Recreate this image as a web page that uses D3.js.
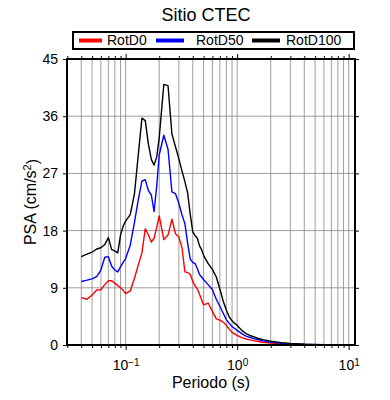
<!DOCTYPE html>
<html>
<head>
<meta charset="utf-8">
<script src="https://cdn.jsdelivr.net/npm/d3@7"></script>
<style>
  body { margin: 0; background: #fff; }
  text { font-family: "Liberation Sans", Arial, sans-serif; fill: #000; }
</style>
</head>
<body>
<script>
// periods (s) and PSA values (cm/s2)
const periods = [0.04,0.045,0.05,0.055,0.06,0.065,0.07,0.075,0.08,0.085,0.09,0.095,
  0.1,0.11,0.12,0.13,0.14,0.15,0.16,0.17,0.18,0.19,0.2,0.22,0.24,0.26,0.28,0.3,
  0.32,0.34,0.36,0.38,0.4,0.42,0.44,0.46,0.48,0.5,0.55,0.6,0.65,0.7,0.75,0.8,
  0.85,0.9,0.95,1.0,1.1,1.2,1.3,1.4,1.5,1.7,2.0,2.5,3.0,4.0,5.0,6.0,7.5,10];

const rotD0 = [7.45,7.2,7.85,8.65,8.7,9.5,10.1,10.1,9.7,9.35,9.0,8.6,
  8.1,8.5,10.5,12.6,14.5,18.3,17.3,16.2,16.8,18.5,20.3,16.6,17.3,19.8,17.5,17.0,
  15.3,11.5,11.4,11.1,10.0,9.3,8.8,8.0,7.1,6.3,6.6,5.3,4.1,3.9,3.6,3.1,
  2.5,2.0,1.75,1.5,1.15,0.95,0.8,0.68,0.6,0.43,0.3,0.18,0.12,0.07,0.04,0.03,0.02,0.01];

const rotD50 = [10.0,10.2,10.4,10.75,11.8,13.8,13.9,12.4,11.8,11.5,12.3,13.0,
  13.6,15.7,19.3,22.9,25.8,26.0,24.3,23.6,21.0,25.0,29.9,33.0,30.8,24.1,23.8,22.3,
  20.5,19.1,16.0,13.5,13.0,12.8,12.0,11.1,10.7,10.3,9.5,8.7,7.2,6.1,5.0,4.0,
  3.4,2.9,2.6,2.3,1.8,1.4,1.2,1.0,0.9,0.65,0.45,0.28,0.18,0.1,0.06,0.04,0.03,0.02];

const rotD100 = [13.9,14.3,14.6,15.1,15.3,15.8,16.9,15.0,14.8,14.5,17.3,18.7,
  19.5,20.5,23.8,30.0,35.7,35.3,31.6,29.2,28.3,29.6,32.6,41.0,40.8,33.2,31.2,29.3,
  27.4,25.7,23.9,20.5,17.8,17.2,16.8,15.6,15.0,14.1,12.8,11.9,10.7,8.8,6.9,5.5,
  4.4,3.8,3.4,3.1,2.3,1.8,1.5,1.3,1.1,0.85,0.6,0.38,0.25,0.13,0.08,0.06,0.04,0.03];

const seriesNames = ["RotD0", "RotD50", "RotD100"];
const seriesColors = ["#ff0000", "#0000ff", "#000000"];
const yTicks = [0, 9, 18, 27, 36, 45];
const xMajor = [0.1, 1, 10];
const xExponents = ["\u22121", "0", "1"];

const W = 390, H = 400;
const margin = {top: 59, right: 35, bottom: 55, left: 67};
const width = W - margin.left - margin.right;
const height = H - margin.top - margin.bottom;

const svg = d3.select("body").append("svg")
  .attr("width", W)
  .attr("height", H);

const x = d3.scaleLog().domain([0.0298, 11.4]).range([0, width]);
const y = d3.scaleLinear().domain([0, 45]).range([height, 0]);

// minor log positions (2..9 of each decade) inside the domain
let xMinor = [];
[0.01, 0.1, 1].forEach(dec => {
  for (let k = 2; k <= 9; k++) {
    const v = dec * k;
    if (v >= x.domain()[0] && v <= x.domain()[1]) xMinor.push(v);
  }
});

const g = svg.append("g")
  .attr("transform", "translate(" + margin.left + "," + margin.top + ")");

// grid
g.append("g").attr("class", "grid")
  .selectAll("line.v")
  .data(xMinor.concat(xMajor))
  .enter().append("line")
  .attr("x1", d => x(d)).attr("x2", d => x(d))
  .attr("y1", 0).attr("y2", height)
  .style("stroke", "#858585")
  .style("stroke-width", 0.8);

g.append("g").attr("class", "grid")
  .selectAll("line.h")
  .data(yTicks.slice(1, -1))
  .enter().append("line")
  .attr("x1", 0).attr("x2", width)
  .attr("y1", d => y(d)).attr("y2", d => y(d))
  .style("stroke", "#858585")
  .style("stroke-width", 0.8);

// curves
const line = d3.line()
  .x(d => x(d[0]))
  .y(d => y(d[1]));

[rotD0, rotD50, rotD100].forEach((vals, i) => {
  g.append("path")
    .datum(periods.map((p, j) => [p, vals[j]]))
    .attr("d", line)
    .style("fill", "none")
    .style("stroke", seriesColors[i])
    .style("stroke-width", 1.4)
    .style("stroke-linejoin", "round");
});

// axes: ticks on all four sides
function styleAxis(sel) {
  sel.select(".domain").remove();
  sel.selectAll(".tick line").style("stroke", "#000").style("stroke-width", 1);
}

g.append("g")
  .attr("transform", "translate(0," + height + ")")
  .call(d3.axisBottom(x).tickValues(xMinor).tickSize(3).tickFormat(""))
  .call(styleAxis);

const xAx = g.append("g")
  .attr("transform", "translate(0," + height + ")")
  .call(d3.axisBottom(x).tickValues(xMajor).tickSize(5).tickPadding(7).tickFormat(""))
  .call(styleAxis);

xAx.selectAll(".tick text")
  .style("font-size", "14px")
  .attr("dy", "0.95em")
  .each(function(d, i) {
    const t = d3.select(this);
    t.append("tspan").text("10");
    t.append("tspan").attr("dy", "-0.45em").style("font-size", "10px").text(xExponents[i]);
  });

g.append("g")
  .call(d3.axisTop(x).tickValues(xMinor).tickSize(3).tickFormat(""))
  .call(styleAxis);
g.append("g")
  .call(d3.axisTop(x).tickValues(xMajor).tickSize(5).tickFormat(""))
  .call(styleAxis);

const yAx = g.append("g")
  .call(d3.axisLeft(y).tickValues(yTicks).tickSize(4).tickPadding(5))
  .call(styleAxis);
yAx.selectAll(".tick text").style("font-size", "14px");

g.append("g")
  .attr("transform", "translate(" + width + ",0)")
  .call(d3.axisRight(y).tickValues(yTicks).tickSize(4).tickFormat(""))
  .call(styleAxis);

// frame
g.append("rect")
  .attr("width", width)
  .attr("height", height)
  .style("fill", "none")
  .style("stroke", "#000")
  .style("stroke-width", 2);

// axis labels
svg.append("text")
  .attr("x", margin.left + width / 2)
  .attr("y", 388)
  .style("text-anchor", "middle")
  .style("font-size", "16px")
  .text("Periodo (s)");

const yl = svg.append("text")
  .attr("transform", "translate(36," + (margin.top + height / 2) + ") rotate(-90)")
  .style("text-anchor", "middle")
  .style("font-size", "16px");
yl.append("tspan").text("PSA (cm/s");
yl.append("tspan").attr("dy", "-0.45em").style("font-size", "11px").text("2");
yl.append("tspan").attr("dy", "0.45em").text(")");

// title
svg.append("text")
  .attr("x", 206)
  .attr("y", 21)
  .style("text-anchor", "middle")
  .style("font-size", "18px")
  .text("Sitio CTEC");

// legend
const legend = svg.append("g").attr("class", "legend");
legend.append("rect")
  .attr("x", 73).attr("y", 32)
  .attr("width", 281).attr("height", 17)
  .style("fill", "#fff")
  .style("stroke", "#000")
  .style("stroke-width", 2);

const legX = [79, 156, 252];
const legTextX = [107, 196, 286];
const legLen = [23, 28, 28];
seriesNames.forEach((name, i) => {
  legend.append("line")
    .attr("x1", legX[i]).attr("x2", legX[i] + legLen[i])
    .attr("y1", 40.5).attr("y2", 40.5)
    .style("stroke", seriesColors[i])
    .style("stroke-width", 4);
  legend.append("text")
    .attr("x", legTextX[i])
    .attr("y", 45)
    .style("font-size", "14px")
    .text(name);
});
</script>
</body>
</html>
